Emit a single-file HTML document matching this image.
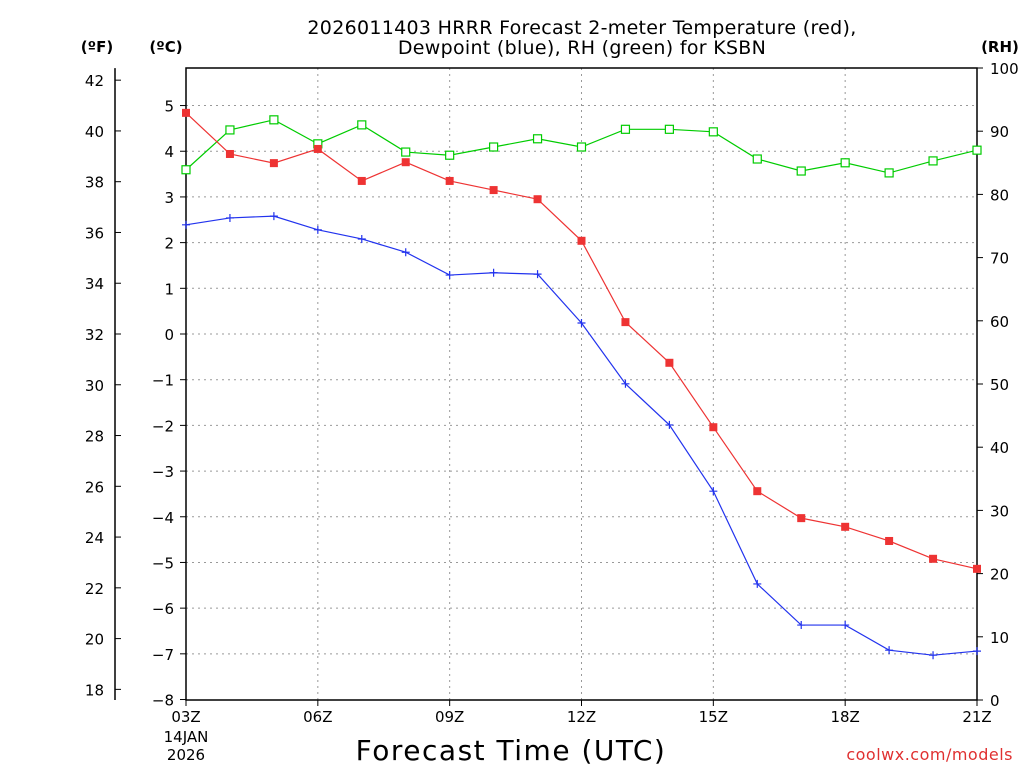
<!DOCTYPE html>
<html><head><meta charset="utf-8"><style>
body{margin:0;background:#fff;}
svg text{font-family:"DejaVu Sans","Liberation Sans",sans-serif;}
</style></head><body>
<svg id="chart" width="1024" height="768" xmlns="http://www.w3.org/2000/svg">
<text x="582" y="34" font-size="19" letter-spacing="0.3" text-anchor="middle">2026011403 HRRR Forecast 2-meter Temperature (red),</text>
<text x="582" y="54" font-size="19" letter-spacing="0.3" text-anchor="middle">Dewpoint (blue), RH (green) for KSBN</text>
<text x="97" y="52" font-size="15" font-weight="bold" text-anchor="middle">(ºF)</text>
<text x="166" y="52" font-size="15" font-weight="bold" text-anchor="middle">(ºC)</text>
<text x="1000" y="52" font-size="15" font-weight="bold" text-anchor="middle">(RH)</text>
<text x="511" y="760" font-size="28" letter-spacing="1.5" text-anchor="middle">Forecast Time (UTC)</text>
<text x="1013" y="760" font-size="16" letter-spacing="0.5" fill="#e03030" text-anchor="end">coolwx.com/models</text>
<g id="grid"></g><g id="axes"></g><g id="series"></g>
</svg>
<script>
const hours=[3,4,5,6,7,8,9,10,11,12,13,14,15,16,17,18,19,20,21];
const tempC=[4.84,3.94,3.74,4.05,3.35,3.76,3.35,3.15,2.95,2.04,0.26,-0.63,-2.04,-3.44,-4.03,-4.22,-4.53,-4.92,-5.14];
const dewC=[2.39,2.54,2.58,2.28,2.08,1.79,1.29,1.34,1.31,0.24,-1.09,-1.99,-3.44,-5.47,-6.37,-6.37,-6.92,-7.03,-6.94];
const rh=[83.9,90.2,91.8,88,91,86.7,86.2,87.5,88.8,87.5,90.3,90.3,89.9,85.6,83.7,85,83.4,85.3,87];
const cTicks=[-8,-7,-6,-5,-4,-3,-2,-1,0,1,2,3,4,5];
const fTicks=[18,20,22,24,26,28,30,32,34,36,38,40,42];
const rhTicks=[0,10,20,30,40,50,60,70,80,90,100];
const xTicks=["03Z","06Z","09Z","12Z","15Z","18Z","21Z"];
const xTickHours=[3,6,9,12,15,18,21];
const X0=186,X1=977,Y0=68,Y1=700;
const xs=h=>X0+(h-3)*(X1-X0)/18;
const yc=c=>334-c*45.69;
const yf=f=>yc((f-32)*5/9);
const yr=r=>Y1-r*(Y1-Y0)/100;
const NS="http://www.w3.org/2000/svg";
function mk(p,t,a){const e=document.createElementNS(NS,t);for(const k in a)e.setAttribute(k,a[k]);p.appendChild(e);return e;}
const grid=document.getElementById('grid'),axes=document.getElementById('axes'),ser=document.getElementById('series');
cTicks.forEach(c=>{const y=yc(c);
 if(c>-8){const g=mk(grid,'line',{x1:X0,x2:X1,y1:y,y2:y,stroke:'#999','stroke-dasharray':'2,4'});
 }
 const t=mk(axes,'line',{x1:180,x2:X0,y1:y,y2:y,stroke:'#000'});
 const l=mk(axes,'text',{x:174,y:y+6,'font-size':15,'text-anchor':'end'});l.textContent=String(c).replace('-','−');
 });
fTicks.forEach(f=>{const y=yf(f);mk(axes,'line',{x1:115,x2:121,y1:y,y2:y,stroke:'#000'});
 const l=mk(axes,'text',{x:104,y:y+6,'font-size':15,'text-anchor':'end'});l.textContent=f;
 });
rhTicks.forEach(r=>{const y=yr(r);mk(axes,'line',{x1:X1,x2:X1+6,y1:y,y2:y,stroke:'#000'});
 const l=mk(axes,'text',{x:990,y:y+6,'font-size':15});l.textContent=r;
 });
xTickHours.forEach((h,i)=>{const x=xs(h);
 if(i>0&&i<xTickHours.length-1){const g=mk(grid,'line',{x1:x,x2:x,y1:Y0,y2:Y1,stroke:'#999','stroke-dasharray':'2,4'});
 }
 mk(axes,'line',{x1:x,x2:x,y1:Y1,y2:Y1+6,stroke:'#000'});
 const l=mk(axes,'text',{x:x,y:722,'font-size':15,'text-anchor':'middle'});l.textContent=xTicks[i];
 });
const d1=mk(axes,'text',{x:186,y:742,'font-size':15,'text-anchor':'middle'});d1.textContent='14JAN';

const d2=mk(axes,'text',{x:186,y:760,'font-size':15,'text-anchor':'middle'});d2.textContent='2026';

const fr=mk(axes,'rect',{x:X0,y:Y0,width:X1-X0,height:Y1-Y0,fill:'none',stroke:'#000','stroke-width':1.5});

const fa=mk(axes,'line',{x1:115,x2:115,y1:yf(42)-12,y2:Y1,stroke:'#000','stroke-width':1.5});

function line(vals,yfn,color,name){const p=mk(ser,'polyline',{points:vals.map((v,i)=>xs(hours[i])+','+yfn(v)).join(' '),fill:'none',stroke:color,'stroke-width':1.2});
 }
line(rh,yr,'#00cc00','rh-line');
line(tempC,yc,'#ee3333','temperature-line');
line(dewC,yc,'#2233ee','dewpoint-line');
rh.forEach((v,i)=>{const m=mk(ser,'rect',{x:xs(hours[i])-4,y:yr(v)-4,width:8,height:8,fill:'#fff',stroke:'#00cc00','stroke-width':1.2});
 });
tempC.forEach((v,i)=>{const m=mk(ser,'rect',{x:xs(hours[i])-4,y:yc(v)-4,width:8,height:8,fill:'#ee3333'});
 });
dewC.forEach((v,i)=>{const x=xs(hours[i]),y=yc(v);
 const m=mk(ser,'path',{d:`M${x-4},${y}H${x+4}M${x},${y-4}V${y+4}`,stroke:'#2233ee','stroke-width':1.2});
 });
</script>
</body></html>
